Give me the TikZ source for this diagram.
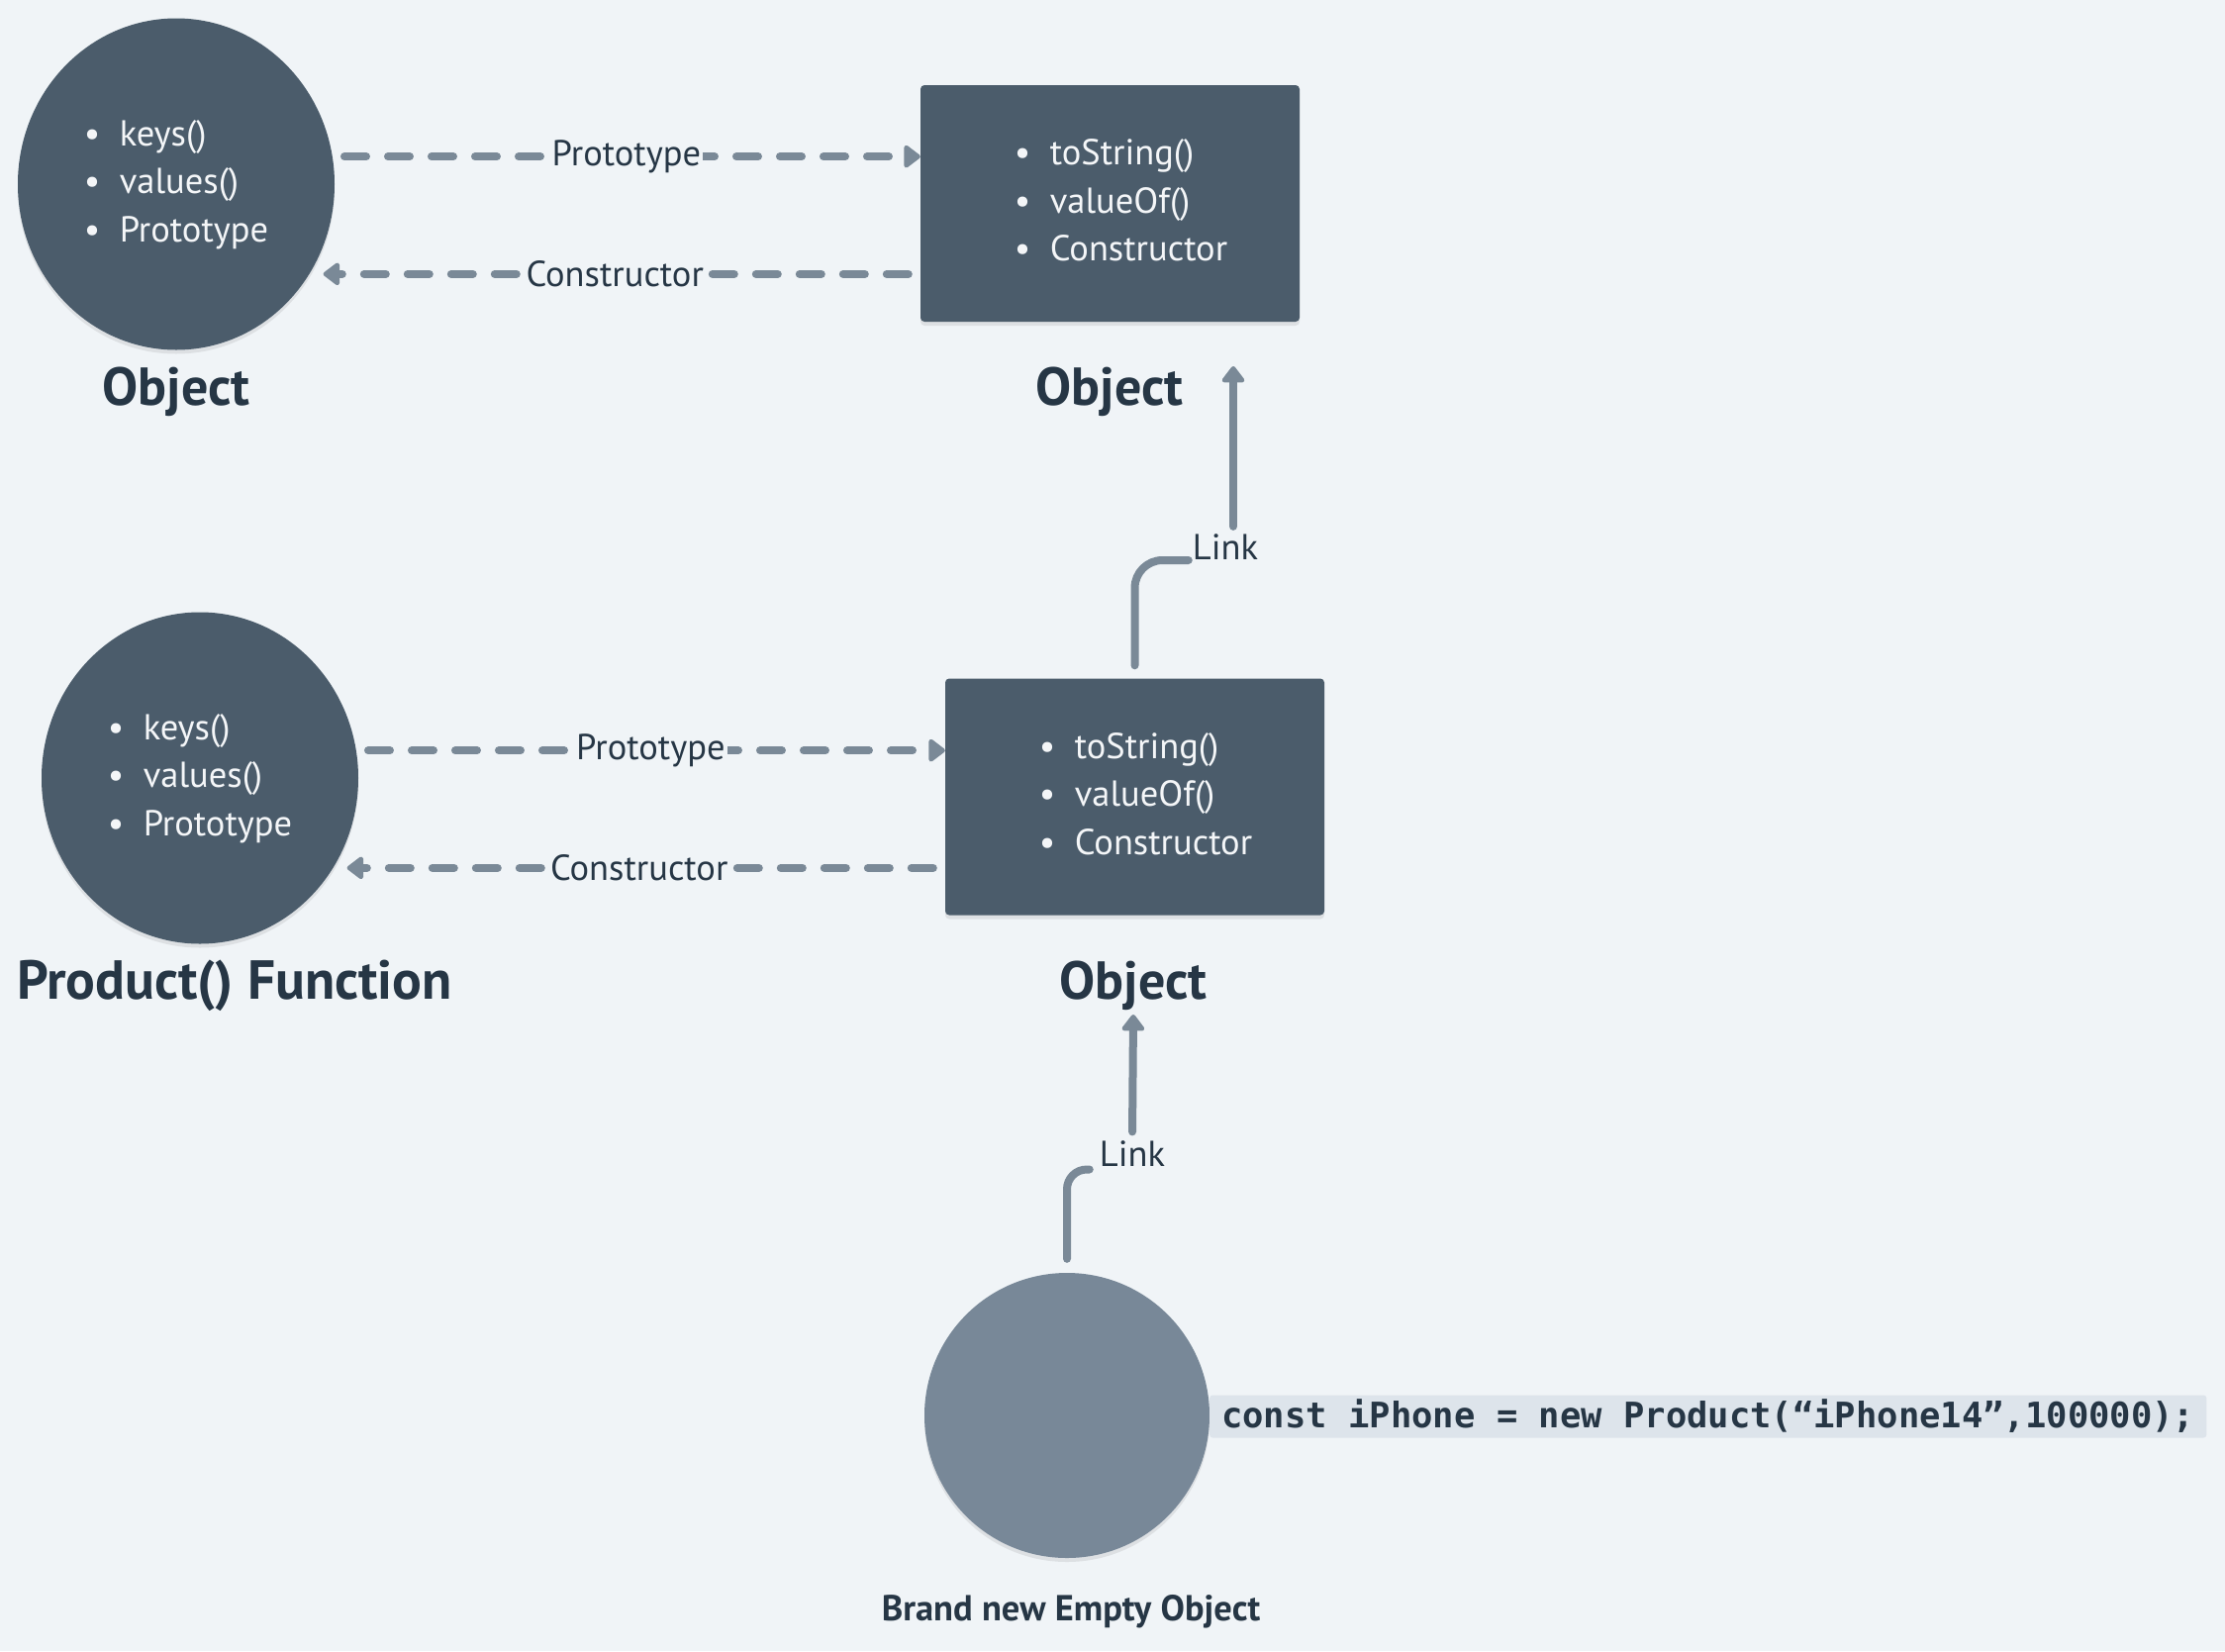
\documentclass[tikz,border=0pt]{standalone}
\usepackage{fontspec}
\setmainfont{PT Sans}
\newfontfamily\codefont{DejaVu Sans Mono}
\usetikzlibrary{shapes.geometric,arrows.meta,shadows}
\definecolor{bgc}{HTML}{F0F4F7}
\definecolor{darkfill}{HTML}{4B5C6B}
\definecolor{connc}{HTML}{7A8997}
\definecolor{lightcirc}{HTML}{788898}
\definecolor{txtc}{HTML}{263645}
\definecolor{codebg}{HTML}{DDE4EB}
\definecolor{whitetxt}{HTML}{F4F6F8}
\newcommand{\mylist}[4]{\begin{tabular}{@{\hspace{#1}}l@{}}\makebox[36pt][l]{•}#2\\\makebox[36pt][l]{•}#3\\\makebox[36pt][l]{•}#4\end{tabular}}
\tikzset{
  softshadow/.style={drop shadow={shadow xshift=0pt,shadow yshift=-4pt,opacity=.08,fill=black}},
  oval/.style={ellipse,fill=darkfill,inner sep=0pt,minimum width=320pt,minimum height=335pt,text=whitetxt,font=\fontsize{36.5}{48.5}\selectfont,softshadow},
  box/.style={rectangle,rounded corners=4pt,fill=darkfill,inner sep=0pt,minimum width=383pt,minimum height=239pt,text=whitetxt,font=\fontsize{36.5}{48.5}\selectfont,softshadow},
  heading/.style={anchor=base,text=txtc,font=\fontsize{54}{60}\selectfont\bfseries,inner sep=0pt},
  dashconn/.style={draw=connc,line width=8pt,line cap=round,dash pattern=on 22pt off 22pt,-{Triangle[length=18pt,width=26pt,round]}},
  lbl/.style={fill=bgc,text=txtc,font=\fontsize{36.5}{40}\selectfont,inner xsep=2pt,inner ysep=2pt},
  linkline/.style={draw=connc,line width=8pt,line cap=round},
  linktip/.style={-{Triangle[length=18pt,width=26pt,round]}},
  linklbl/.style={text=txtc,font=\fontsize{36.5}{40}\selectfont,inner ysep=4pt},
}
\begin{document}
\begin{tikzpicture}[x=1pt,y=-1pt]
\fill[bgc] (0,0) rectangle (2248,1668);
\useasboundingbox (0,0) rectangle (2248,1668);

% shapes
\node[oval] (c1) at (178,186) {\mylist{0pt}{keys()}{values()}{Prototype}};
\node[box] (r1) at (1121.5,205.5) {\mylist{22pt}{toString()}{valueOf()}{Constructor}};
\node[oval] (c2) at (202,786) {\mylist{0pt}{keys()}{values()}{Prototype}};
\node[box] (r2) at (1146.5,805) {\mylist{22pt}{toString()}{valueOf()}{Constructor}};
\node[circle,fill=lightcirc,inner sep=0pt,minimum size=288pt,softshadow] (c3) at (1078,1430) {};

% headings
\node[heading] (h1) at (178,409) {Object};
\node[heading] (h2) at (1121,409) {Object};
\node[heading,anchor=base west,font=\fontsize{55.5}{60}\selectfont\bfseries] (h3) at (17,1009) {Product() Function};
\node[heading] (h4) at (1145,1009) {Object};
\node[heading,font=\fontsize{36.5}{40}\selectfont\bfseries] (h5) at (1082,1637) {Brand new Empty Object};

% code
\node[anchor=west,fill=codebg,rounded corners=3pt,inner xsep=12pt,minimum height=43pt,text=txtc,font=\fontsize{35.5}{40}\selectfont\codefont\bfseries] (code) at (1222,1431) {const iPhone = new Product(“iPhone14”,100000);};

% dashed connectors top
\draw[dashconn,shorten <=12pt] (c1.10) -- (c1.10 -| r1.west) node[midway,lbl] {Prototype};
\draw[dashconn,shorten <=12pt,shorten >=14pt] (r1.west |- c1.-34) -- (c1.-34) node[midway,lbl] {Constructor};
% dashed connectors middle
\draw[dashconn,shorten <=12pt] (c2.10) -- (c2.10 -| r2.west) node[midway,lbl] {Prototype};
\draw[dashconn,shorten <=12pt,shorten >=14pt] (r2.west |- c2.-34) -- (c2.-34) node[midway,lbl] {Constructor};

% link connectors
\node[linklbl,inner xsep=4pt] (L1) at (1238,553) {Link};
\coordinate (t1) at (1246,370);
\draw[linkline,rounded corners=28pt,shorten <=13pt] (r2.north) |- ([yshift=-13pt]L1.west);
\draw[linkline,linktip,shorten <=4pt] ([xshift=8pt]L1.north) -- (t1);

\node[linklbl,inner xsep=10pt] (L2) at (1144,1165.5) {Link};
\coordinate (t2) at (1145,1025);
\draw[linkline,rounded corners=20pt,shorten <=14pt] (c3.north) |- ([yshift=-16pt]L2.west);
\draw[linkline,linktip,shorten <=5pt] (L2.north) -- (t2);
\end{tikzpicture}
\end{document}
